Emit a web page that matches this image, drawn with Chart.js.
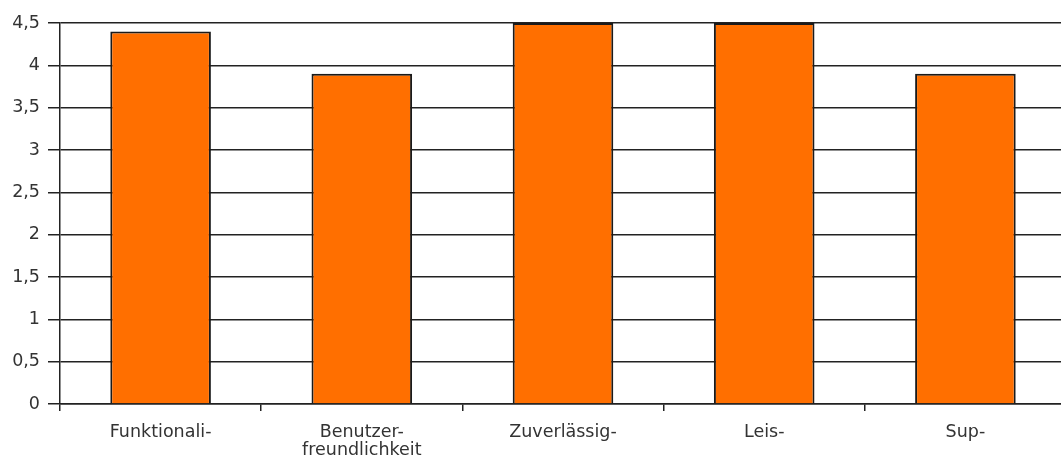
<!DOCTYPE html>
<html>
<head>
<meta charset="utf-8">
<script src="https://cdn.jsdelivr.net/npm/chart.js@4/dist/chart.umd.min.js"></script>
<style>
  html, body { margin: 0; padding: 0; background: #fff; overflow: hidden; }
  .wrap { width: 1066px; height: 462px; }
</style>
</head>
<body>
<div class="wrap"><canvas id="myChart" width="1066" height="462"></canvas></div>
<script>
// categories (x axis, line breaks as in the picture)
const categories = ['Funktionali-', ['Benutzer-', 'freundlichkeit'], 'Zuverlässig-', 'Leis-', 'Sup-'];
// bar values
const ratings = [4.4, 3.9, 4.5, 4.5, 3.9];
// y scale
const yMin = 0;
const yMax = 4.5;
const yStep = 0.5;

const ctx = document.getElementById('myChart').getContext('2d');
const myChart = new Chart(ctx, {
    type: 'bar',
    data: {
        labels: categories,
        datasets: [{
            data: ratings,
            backgroundColor: '#ff6f00',
            borderColor: '#1a1a1a',
            borderWidth: 2,
            categoryPercentage: 1,
            barPercentage: 0.5
        }]
    },
    options: {
        responsive: false,
        animation: false,
        layout: { padding: { top: 23, left: 0, right: 0, bottom: 0 } },
        plugins: {
            legend: { display: false },
            tooltip: { enabled: false }
        },
        scales: {
            x: {
                grid: {
                    offset: true,
                    drawOnChartArea: false,
                    drawTicks: true,
                    tickLength: 7,
                    color: '#222',
                    lineWidth: 1.5
                },
                border: { color: '#222', width: 1.5 },
                ticks: {
                    color: '#333',
                    font: { family: 'DejaVu Sans', size: 17.5, lineHeight: 1 },
                    padding: 13,
                    maxRotation: 0,
                    autoSkip: false
                },
                afterFit: function (scale) { scale.height = 58; }
            },
            y: {
                min: yMin,
                max: yMax,
                grid: {
                    color: '#222',
                    lineWidth: 1.5,
                    tickLength: 12
                },
                border: { color: '#222', width: 1.5 },
                ticks: {
                    stepSize: yStep,
                    color: '#333',
                    font: { family: 'DejaVu Sans', size: 17.5 },
                    padding: 8,
                    callback: function (v) { return String(v).replace('.', ','); }
                },
                afterFit: function (scale) { scale.width = 60; }
            }
        }
    }
});
</script>
</body>
</html>
